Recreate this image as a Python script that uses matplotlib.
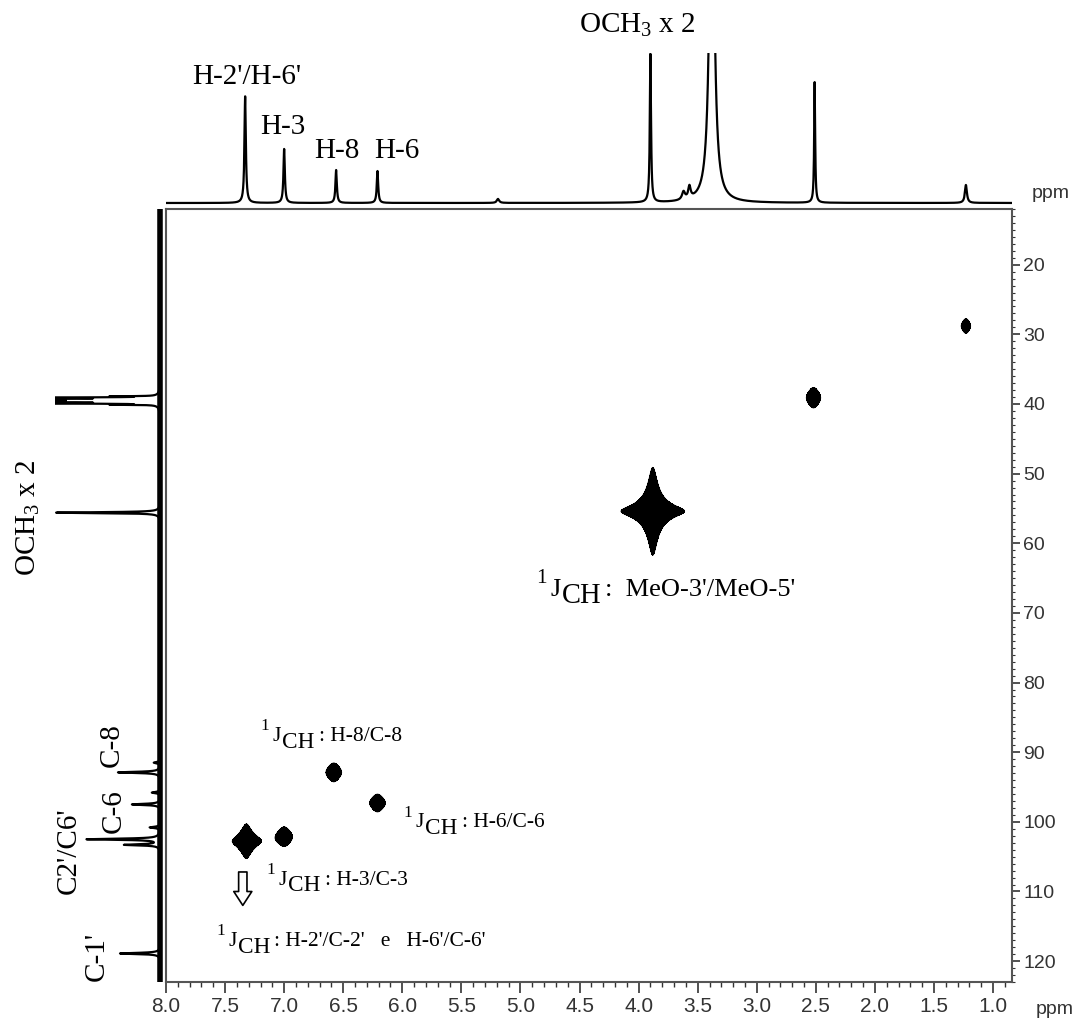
import numpy as np
import matplotlib
matplotlib.use("Agg")
import matplotlib.pyplot as plt
from matplotlib.ticker import MultipleLocator, FormatStrFormatter

# ==============================
# DATA
# ==============================
# 1H projection (top): position ppm, height, half width ppm
h_ppm = [7.33, 7.00, 6.56, 6.21, 5.19, 3.90, 3.62, 3.57, 3.38, 2.51, 1.23]
h_int = [107, 54, 33, 32, 4, 149, 8, 12, 400, 121, 18]
h_wid = [0.007, 0.007, 0.007, 0.007, 0.012, 0.006, 0.015, 0.012, 0.0224, 0.005, 0.010]

# 13C projection (left)
c_ppm = [38.9, 39.1, 39.3, 39.5, 39.7, 39.9, 40.1,
         55.6, 91.5, 92.9, 95.8, 97.5, 100.8, 102.5, 103.3, 118.9]
c_int = [40, 260, 480, 560, 480, 260, 40,
         104, 6, 42, 8, 28, 10, 73, 35, 40]
c_wid = [0.03, 0.03, 0.03, 0.03, 0.03, 0.03, 0.03,
         0.08, 0.10, 0.10, 0.10, 0.10, 0.10, 0.10, 0.10, 0.10]

# 2D cross peaks (1H ppm, 13C ppm, amplitude, widths)
cross_h = [7.32, 7.00, 6.58, 6.21, 3.88, 2.52, 1.23]
cross_c = [102.8, 102.1, 92.9, 97.3, 55.4, 39.1, 28.8]
cross_amp = [10, 2.2, 2.2, 2.2, 60, 2.2, 2.2]
cross_wh = [0.039, 0.060, 0.060, 0.060, 0.035, 0.055, 0.036]
cross_wc = [0.82, 1.22, 1.22, 1.15, 0.82, 1.33, 0.95]

# labels
top_labels = [("H-2'/H-6'", 7.32, 119), ("H-3", 7.01, 69), ("H-8", 6.55, 45),
              ("H-6", 6.05, 45), ("OCH$_3$ x 2", 4.01, 170)]
left_labels = [("OCH$_3$ x 2", 132, 56.3), ("C-8", 48, 89.0), ("C-6", 46, 98.5),
               ("C2'/C6'", 91, 104.1), ("C-1'", 63, 119.3)]
jch_labels = [(7.10, 88.4, ": H-8/C-8", 15.5),
              (4.75, 67.6, ":  MeO-3'/MeO-5'", 19),
              (5.89, 100.8, ": H-6/C-6", 15.5),
              (7.05, 109.0, ": H-3/C-3", 15.5),
              (7.475, 117.85, ": H-2'/C-2'   e   H-6'/C-6'", 15.5)]

X_LIM = (8.0, 0.84)
Y_LIM = (123, 12)
SERIF = "Liberation Serif"
SANS = "Liberation Sans"

plt.rcParams["mathtext.fontset"] = "custom"
plt.rcParams["mathtext.rm"] = SERIF
plt.rcParams["mathtext.it"] = SERIF + ":italic"


def lorentz_sum(grid, pos, amp, wid):
    out = np.zeros_like(grid)
    for p, a, w in zip(pos, amp, wid):
        out += a / (1.0 + ((grid - p) / w) ** 2)
    return out


def jch(ax, x, y, rest, size):
    """1J_CH label built from pieces."""
    j = ax.text(x, y, "J", fontsize=size, family=SERIF, ha="left", va="baseline")
    ax.annotate("1", xy=(0, 0.62), xycoords=j, xytext=(-2, 0),
                textcoords="offset points", ha="right", va="bottom",
                fontsize=size * 0.8, family=SERIF)
    ch = ax.annotate("CH", xy=(1, 0), xycoords=j, xytext=(1, -size * 0.3),
                     textcoords="offset points", ha="left", va="bottom",
                     fontsize=size * 1.08, family=SERIF)
    ax.annotate(rest, xy=(1, 0), xycoords=(ch, j), xytext=(3, 0),
                textcoords="offset points", ha="left", va="bottom",
                fontsize=size, family=SERIF)


fig = plt.figure(figsize=(10.78, 10.25), dpi=100)
W, H = 1078.0, 1025.0

# ---------- main 2D panel ----------
ax = fig.add_axes([166 / W, 1 - 982 / H, 846 / W, 773 / H])
gx = np.linspace(X_LIM[1], X_LIM[0], 2000)
gy = np.linspace(Y_LIM[1], Y_LIM[0], 1800)
XX, YY = np.meshgrid(gx, gy)
Z = np.zeros_like(XX)
for hx, cy, a, wx, wy in zip(cross_h, cross_c, cross_amp, cross_wh, cross_wc):
    Z += a / ((1 + ((XX - hx) / wx) ** 2) * (1 + ((YY - cy) / wy) ** 2))
ax.contourf(XX, YY, Z, levels=[1, Z.max() + 1], colors="black")
ax.contour(XX, YY, Z, levels=np.geomspace(1, 60, 24), colors="black", linewidths=0.7)

ax.set_xlim(*X_LIM)
ax.set_ylim(*Y_LIM)
ax.xaxis.set_major_locator(MultipleLocator(0.5))
ax.xaxis.set_minor_locator(MultipleLocator(0.1))
ax.xaxis.set_major_formatter(FormatStrFormatter("%.1f"))
ax.yaxis.set_major_locator(MultipleLocator(10))
ax.yaxis.set_minor_locator(MultipleLocator(1))
ax.yaxis.tick_right()
ax.tick_params(axis="x", which="major", direction="out", length=8, width=1.2,
               pad=2.5, labelsize=15, colors="#333")
ax.tick_params(axis="x", which="minor", direction="out", length=3.5, width=1.0, colors="#333")
ax.tick_params(axis="y", which="major", direction="out", length=6, width=1.2,
               pad=2, labelsize=14, colors="#333")
ax.tick_params(axis="y", which="minor", direction="out", length=2.5, width=0.8, colors="#333")
for lab in ax.get_xticklabels() + ax.get_yticklabels():
    lab.set_family(SANS)
for sp in ax.spines.values():
    sp.set_linewidth(1.5)
    sp.set_color("#555")

for x, y, rest, size in jch_labels:
    jch(ax, x, y, rest, size)

ax.annotate("", xy=(7.35, 112.0), xytext=(7.35, 107.2),
            arrowprops=dict(arrowstyle="simple,head_width=0.65,head_length=0.5,tail_width=0.3",
                            mutation_scale=20, fc="white", ec="black", lw=1.2,
                            shrinkA=0, shrinkB=0))

fig.text(1036 / W, 1 - 1014 / H, "ppm", family=SANS, fontsize=14, color="#333", va="baseline")

# ---------- top 1H projection ----------
axt = fig.add_axes([166 / W, 1 - 209 / H, 846 / W, 156 / H])
hx = np.linspace(X_LIM[1], X_LIM[0], 8000)
axt.plot(hx, lorentz_sum(hx, h_ppm, h_int, h_wid), color="black", lw=1.6)
axt.set_xlim(*X_LIM)
axt.set_ylim(-6, 150)
axt.axis("off")
for txt, x, y in top_labels:
    axt.text(x, y, txt, family=SERIF, fontsize=21, ha="center", va="baseline")
fig.text(1032 / W, 1 - 198 / H, "ppm", family=SANS, fontsize=14, color="#333", va="baseline")

# ---------- left 13C projection ----------
axl = fig.add_axes([55 / W, 1 - 982 / H, 111 / W, 773 / H])
cy = np.linspace(Y_LIM[1], Y_LIM[0], 20000)
axl.plot(lorentz_sum(cy, c_ppm, c_int, c_wid), cy, color="black", lw=1.6)
axl.axvline(0, color="black", lw=4)
axl.set_xlim(105, -6)
axl.set_ylim(*Y_LIM)
axl.axis("off")
for txt, x, y in left_labels:
    axl.text(x, y, txt, family=SERIF, fontsize=21, rotation=90, ha="center", va="center")

plt.savefig("out.png", dpi=100, facecolor="white")
